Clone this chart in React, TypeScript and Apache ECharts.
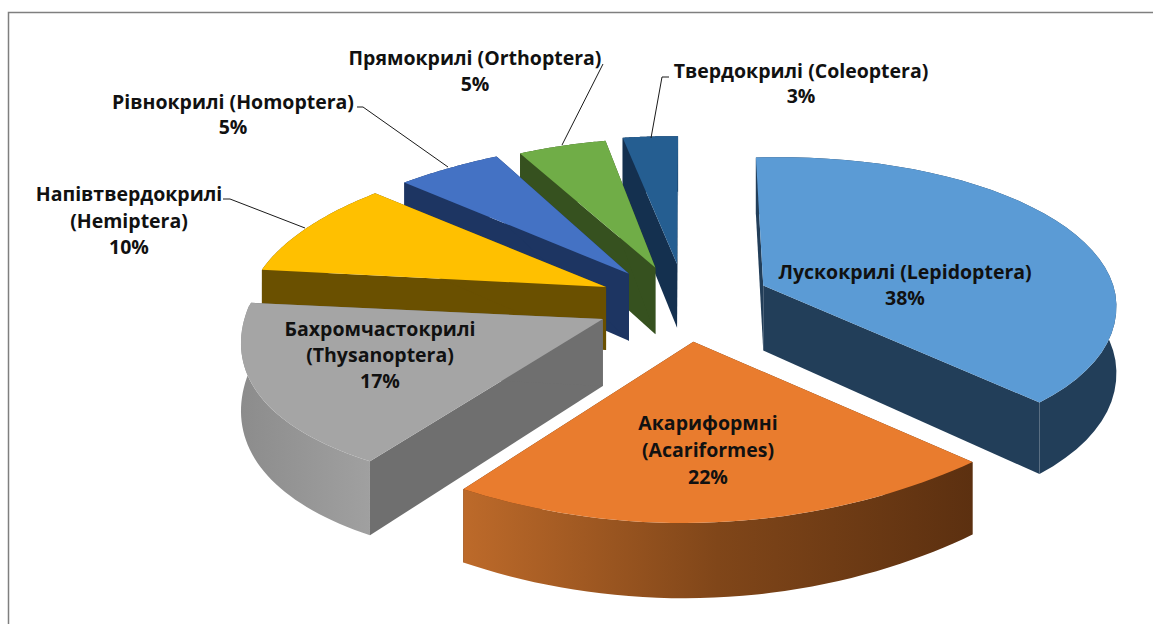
import React, { useEffect, useRef } from "react";
import * as echarts from "echarts";

const shares = [38, 22, 17, 10, 5, 5, 3];
const names = [
  "Лускокрилі (Lepidoptera)",
  "Акариформні (Acariformes)",
  "Бахромчастокрилі (Thysanoptera)",
  "Напівтвердокрилі (Hemiptera)",
  "Рівнокрилі (Homoptera)",
  "Прямокрилі (Orthoptera)",
  "Твердокрилі (Coleoptera)",
];
const labelLines = [
  ["Лускокрилі (Lepidoptera)", "38%"],
  ["Акариформні", "(Acariformes)", "22%"],
  ["Бахромчастокрилі", "(Thysanoptera)", "17%"],
  ["Напівтвердокрилі", "(Hemiptera)", "10%"],
  ["Рівнокрилі (Homoptera)", "5%"],
  ["Прямокрилі (Orthoptera)", "5%"],
  ["Твердокрилі (Coleoptera)", "3%"],
];
const topColors = ["#5b9bd5", "#e97c2e", "#a5a5a5", "#ffc000", "#4472c4", "#70ad47", "#255e91"];
const sideColors = ["#223e59", "#5f3212", "#6f6f6f", "#6a5000", "#1d3562", "#36511f", "#14304f"];
const wallStart = ["#223e59", "#bd6a2a", "#8c8c8c", "#6a5000", "#1d3562", "#36511f", "#14304f"];
const wallMid = ["#223e59", "#804619", "#969696", "#6a5000", "#1d3562", "#36511f", "#14304f"];
const wallEnd = ["#223e59", "#5c3010", "#a0a0a0", "#6a5000", "#1d3562", "#36511f", "#14304f"];
const drawOrder = [6, 5, 4, 3, 2, 0, 1];

const labelPos = [
  { x: 905, ys: [271, 297] },
  { x: 708, ys: [422, 449, 476] },
  { x: 380, ys: [328, 354, 380] },
  { x: 129, ys: [193, 220, 246] },
  { x: 233, ys: [101, 126] },
  { x: 475, ys: [57, 83] },
  { x: 801, ys: [70, 95] },
];
const leaders = [
  [[223, 199], [230, 199], [305, 228]],
  [[357, 107], [363, 107], [448, 167]],
  [[603, 64], [562, 145]],
  [[669, 77], [662, 77], [651, 138]],
];

// Small per-slice layout corrections of the projected model: [dx, dy]
const apexShift = [[2, -2], [4, -4], [2, -4], [3, -3], [0, -2], [3, -2], [4, -3]];
const rimStartShift = [[5, 1], [3, 2], [0, -5], [-7, -12], [-4, -9], [9, -8], [4, -7]];
const rimEndShift = [[4, 2], [0, 0], [-4, -10], [-7, -10], [7, -10], [5, -6], [4, -5]];
const sliceDepth = [66, 64, 66, 64, 69, 69, 66];

const CX = 681;
const CY = 304;
const R = 350;
const KR = 155;
const KR_FRONT = 168;
const PERSP_BACK = 0.15;
const PERSP_FRONT = 0.12;
const SKEW = 11;
const SHEAR = 0.03;
const EXPLODE = 0.25;

const total = shares.reduce((a, b) => a + b, 0);
const starts: number[] = [];
shares.reduce((acc, v, i) => {
  starts[i] = (acc / total) * Math.PI * 2;
  return acc + v;
}, 0);

function frontDepth(d: number): number {
  const e = Math.max(0, d - 1);
  return KR_FRONT * d + 130 * e * e;
}

function project(u: number, v: number, drop: number): number[] {
  const s = 1 / (1 + (v >= 0 ? PERSP_BACK : PERSP_FRONT) * v);
  const x = CX + R * u * s + (v < 0 ? -v * SKEW : 0);
  const y = (v >= 0 ? CY - KR * v * s : CY + frontDepth(-v)) + drop * s - SHEAR * R * u * s;
  return [x, y];
}

function renderSlice(_params: any, api: any) {
  const idx = api.value(0);
  const share = api.value(1);
  const a0 = starts[idx];
  const a1 = a0 + (share / total) * Math.PI * 2;
  const mid = (a0 + a1) / 2;
  const u0 = EXPLODE * Math.sin(mid);
  const v0 = EXPLODE * Math.cos(mid);
  const depth = sliceDepth[idx];
  const steps = 40;
  const arc = (drop: number) => {
    const pts: number[][] = [];
    for (let i = 0; i <= steps; i++) {
      const t = i / steps;
      const a = a0 + (a1 - a0) * t;
      const p = project(u0 + Math.sin(a), v0 + Math.cos(a), drop);
      p[0] += rimStartShift[idx][0] * (1 - t) + rimEndShift[idx][0] * t;
      p[1] += rimStartShift[idx][1] * (1 - t) + rimEndShift[idx][1] * t;
      pts.push(p);
    }
    return pts;
  };
  const top = arc(0);
  const low = arc(depth);
  const apexAt = (drop: number) => {
    const p = project(u0, v0, drop);
    return [p[0] + apexShift[idx][0], p[1] + apexShift[idx][1]];
  };
  const apexTop = apexAt(0);
  const apexLow = apexAt(depth);
  const poly = (points: number[][], fill: any) => ({
    type: "polygon",
    shape: { points },
    style: { fill, stroke: null },
  });
  const wallFill = new echarts.graphic.LinearGradient(0, 0, 1, 0, [
    { offset: 0, color: wallStart[idx] },
    { offset: 0.5, color: wallMid[idx] },
    { offset: 1, color: wallEnd[idx] },
  ]);
  return {
    type: "group",
    children: [
      poly([apexTop, top[0], low[0], apexLow], sideColors[idx]),
      poly([apexTop, top[steps], low[steps], apexLow], sideColors[idx]),
      poly([...top, ...low.slice().reverse()], wallFill),
      poly([apexTop, ...top], topColors[idx]),
    ],
  };
}

const FONT = "'Open Sans', sans-serif";

export default function App() {
  const ref = useRef<HTMLDivElement>(null);
  useEffect(() => {
    const chart = echarts.init(ref.current!, undefined, { renderer: "svg" });
    const labelEls: any[] = [];
    labelLines.forEach((lines, i) => {
      lines.forEach((t, j) => {
        labelEls.push({
          type: "text",
          x: labelPos[i].x,
          y: labelPos[i].ys[j],
          z: 20,
          style: {
            text: t,
            fill: "#111111",
            font: `700 19.5px ${FONT}`,
            textAlign: "center",
            textVerticalAlign: "middle",
          },
        });
      });
    });
    const leaderEls = leaders.map((points) => ({
      type: "polyline",
      z: 15,
      shape: { points },
      style: { stroke: "#1a1a1a", lineWidth: 1, fill: null },
    }));
    chart.setOption({
      animation: false,
      backgroundColor: "#ffffff",
      graphic: [
        {
          type: "polyline",
          z: 1,
          shape: { points: [[8.5, 624], [8.5, 12.5], [1153, 12.5]] },
          style: { stroke: "#7f7f7f", lineWidth: 1.5, fill: null },
        },
        ...leaderEls,
        ...labelEls,
      ],
      series: [
        {
          type: "custom",
          coordinateSystem: "none",
          renderItem: renderSlice,
          data: drawOrder.map((i) => ({ name: names[i], value: [i, shares[i]] })),
          z: 5,
        },
      ],
    });
    return () => chart.dispose();
  }, []);
  return <div ref={ref} style={{ position: "fixed", left: 0, top: 0, width: 1153, height: 624 }} />;
}
